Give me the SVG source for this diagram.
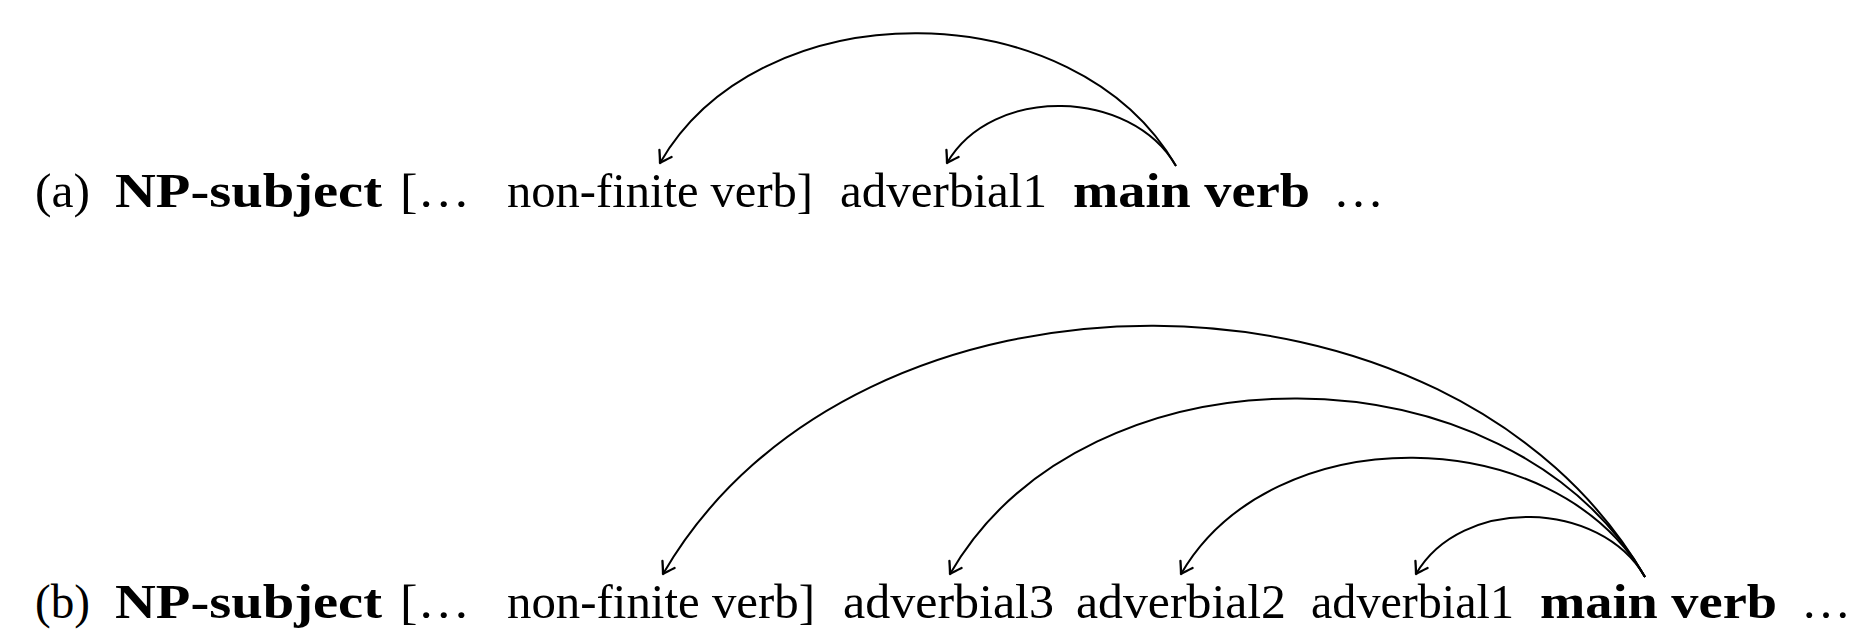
<svg xmlns="http://www.w3.org/2000/svg" width="1860" height="630" viewBox="0 0 1860 630">
<style>
text{font-family:"Liberation Serif","Times New Roman",serif;font-size:48px;fill:#000}
.b{font-weight:bold}
.arc{fill:none;stroke:#000;stroke-width:2;marker-end:url(#ah)}
</style>
<defs>
<marker id="ah" markerUnits="userSpaceOnUse" viewBox="-13 -9 16 18" refX="0" refY="0" markerWidth="16" markerHeight="18" orient="auto" overflow="visible">
<path d="M -11 -7 Q -3.5 -2 0 0 Q -3.5 2 -11 7" fill="none" stroke="#000" stroke-width="2.3" stroke-linecap="round" stroke-linejoin="round"/>
</marker>
</defs>
<rect width="1860" height="630" fill="#fff"/>
<g id="row-a">
<g id="a-label"><text x="35" y="207" textLength="55" lengthAdjust="spacingAndGlyphs">(a)</text></g>
<g id="a-np"><text class="b" x="115" y="207" textLength="267" lengthAdjust="spacingAndGlyphs">NP-subject</text></g>
<g id="a-open"><text x="400" y="207" textLength="70" lengthAdjust="spacingAndGlyphs">[…</text></g>
<g id="a-nfv"><text x="507" y="207" textLength="306" lengthAdjust="spacingAndGlyphs">non-finite verb]</text></g>
<g id="a-adv1"><text x="840" y="207" textLength="207" lengthAdjust="spacingAndGlyphs">adverbial1</text></g>
<g id="a-mv"><text class="b" x="1073" y="207" textLength="237" lengthAdjust="spacingAndGlyphs">main verb</text></g>
<g id="a-dots"><text x="1333" y="207" textLength="51" lengthAdjust="spacingAndGlyphs">…</text></g>
</g>
<g id="row-b">
<g id="b-label"><text x="35" y="618" textLength="55" lengthAdjust="spacingAndGlyphs">(b)</text></g>
<g id="b-np"><text class="b" x="115" y="618" textLength="267" lengthAdjust="spacingAndGlyphs">NP-subject</text></g>
<g id="b-open"><text x="400" y="618" textLength="70" lengthAdjust="spacingAndGlyphs">[…</text></g>
<g id="b-nfv"><text x="507" y="618" textLength="308" lengthAdjust="spacingAndGlyphs">non-finite verb]</text></g>
<g id="b-adv3"><text x="843" y="618" textLength="211" lengthAdjust="spacingAndGlyphs">adverbial3</text></g>
<g id="b-adv2"><text x="1076" y="618" textLength="210" lengthAdjust="spacingAndGlyphs">adverbial2</text></g>
<g id="b-adv1"><text x="1311" y="618" textLength="203" lengthAdjust="spacingAndGlyphs">adverbial1</text></g>
<g id="b-mv"><text class="b" x="1540" y="618" textLength="237" lengthAdjust="spacingAndGlyphs">main verb</text></g>
<g id="b-dots"><text x="1801" y="618" textLength="50" lengthAdjust="spacingAndGlyphs">…</text></g>
</g>
<g id="connectors">
<path class="arc" d="M 1176 166 C 1075 -9 761 -12 660 163"/>
<path class="arc" d="M 1176 166 C 1131 88 992 85 947 163"/>
<path class="arc" d="M 1645 577 C 1452 244 856 241 663 574"/>
<path class="arc" d="M 1645 577 C 1509 341 1086 338 950 574"/>
<path class="arc" d="M 1645 577 C 1554 420 1272 417 1181 574"/>
<path class="arc" d="M 1645 577 C 1600 499 1461 496 1416 574"/>
</g>
</svg>
